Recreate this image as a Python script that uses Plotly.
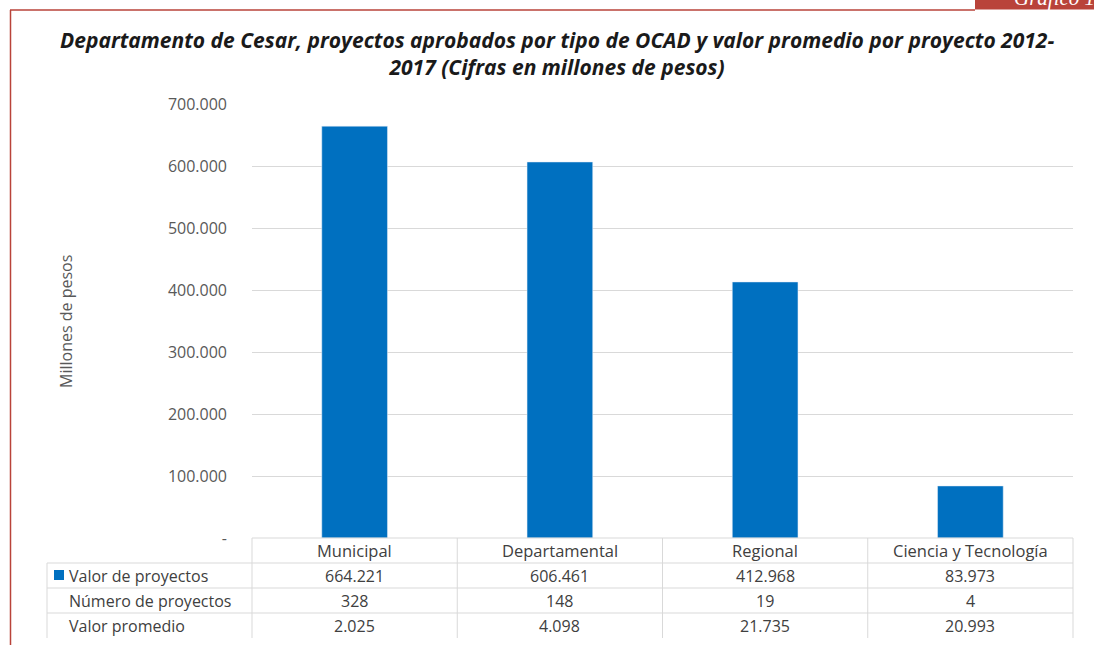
import plotly.graph_objects as go

categories = ["Municipal", "Departamental", "Regional", "Ciencia y Tecnología"]
valor_proyectos = [664221, 606461, 412968, 83973]
numero_proyectos = [328, 148, 19, 4]
valor_promedio = [2025, 4098, 21735, 20993]
row_labels = ["Valor de proyectos", "Número de proyectos", "Valor promedio"]
tick_vals = [0, 100000, 200000, 300000, 400000, 500000, 600000, 700000]
tick_text = ["-", "100.000", "200.000", "300.000", "400.000", "500.000", "600.000", "700.000"]

W, H = 1094, 645
L, R, T, B = 252, 1073, 104, 538
BAR = "#0070C0"
GRID = "#D9D9D9"
TXT = "#404040"
RED = "#B9433A"


def px(x):
    return (x - L) / (R - L)


def py(y):
    return (B - y) / (B - T)


def fmt(v):
    return f"{v:,}".replace(",", ".")


fig = go.Figure()
fig.add_trace(go.Bar(x=categories, y=valor_proyectos, marker_color=BAR,
                     name="Valor de proyectos", showlegend=False))

shapes = []
annotations = []
font_t = dict(family="Open Sans, Liberation Sans, sans-serif", size=16, color=TXT)
font_h = dict(family="Open Sans, Liberation Sans, sans-serif", size=16.5, color=TXT)
row_h = 25
n = len(categories)
col_w = (R - L) / n
shapes.append(dict(type="line", xref="paper", yref="paper", x0=px(L), x1=px(R), y0=py(B), y1=py(B), line=dict(color=GRID, width=1)))
for i in range(1, 4):
    y = B + row_h * i
    shapes.append(dict(type="line", xref="paper", yref="paper", x0=px(47), x1=px(R), y0=py(y), y1=py(y), line=dict(color=GRID, width=1)))
shapes.append(dict(type="line", xref="paper", yref="paper", x0=px(47), x1=px(47), y0=py(B + row_h), y1=py(B + 4 * row_h), line=dict(color=GRID, width=1)))
for j in range(n + 1):
    x = L + col_w * j
    shapes.append(dict(type="line", xref="paper", yref="paper", x0=px(x), x1=px(x), y0=py(B), y1=py(B + 4 * row_h), line=dict(color=GRID, width=1)))
shapes.append(dict(type="rect", xref="paper", yref="paper", x0=px(54), x1=px(64), y0=py(570), y1=py(580), fillcolor=BAR, line=dict(width=0)))

rows = [valor_proyectos, numero_proyectos, valor_promedio]
for j, c in enumerate(categories):
    annotations.append(dict(xref="x", yref="paper", x=c, y=py(B + row_h / 2), text=c, showarrow=False, font=font_h, xanchor="center", yanchor="middle"))
for i, (lab, vals) in enumerate(zip(row_labels, rows)):
    yc = py(B + row_h * (i + 1) + row_h / 2)
    annotations.append(dict(xref="paper", yref="paper", x=px(67), y=yc, text=lab, showarrow=False, font=font_t, xanchor="left", yanchor="middle"))
    for c, v in zip(categories, vals):
        annotations.append(dict(xref="x", yref="paper", x=c, y=yc, text=fmt(v), showarrow=False, font=font_t, xanchor="center", yanchor="middle"))

annotations.append(dict(xref="paper", yref="paper", x=px(557), y=py(53),
                        text="<b><i>Departamento de Cesar, proyectos aprobados por tipo de OCAD y valor promedio por proyecto 2012-<br>2017 (Cifras en millones de pesos)</i></b>",
                        showarrow=False, xanchor="center", yanchor="middle",
                        font=dict(family="Open Sans, sans-serif", size=21, color="#1a1a1a")))
annotations.append(dict(xref="paper", yref="paper", x=px(66), y=py(322), text="Millones de pesos", textangle=-90,
                        showarrow=False, xanchor="center", yanchor="middle",
                        font=dict(family="Open Sans, sans-serif", size=16, color="#595959")))

shapes.append(dict(type="line", xref="paper", yref="paper", x0=px(10), x1=px(975), y0=py(10), y1=py(10), line=dict(color=RED, width=1.5)))
shapes.append(dict(type="line", xref="paper", yref="paper", x0=px(10.5), x1=px(10.5), y0=py(10), y1=py(650), line=dict(color=RED, width=1.5)))
shapes.append(dict(type="rect", xref="paper", yref="paper", x0=px(975), x1=px(1100), y0=py(-5), y1=py(9.5), fillcolor=RED, line=dict(width=0)))
annotations.append(dict(xref="paper", yref="paper", x=px(1012), y=py(12), text="<i>Gráfico 1</i>", showarrow=False,
                        xanchor="left", yanchor="bottom", font=dict(family="Liberation Serif, serif", size=21, color="white")))

fig.update_layout(
    width=W, height=H,
    margin=dict(l=L, r=W - R, t=T, b=H - B, autoexpand=False),
    paper_bgcolor="white", plot_bgcolor="white",
    bargap=0.68,
    shapes=shapes, annotations=annotations,
    xaxis=dict(showticklabels=False, showgrid=False, zeroline=False, showline=False),
    yaxis=dict(range=[0, 700000], tickvals=tick_vals, ticktext=tick_text, showgrid=True, gridcolor=GRID,
               zeroline=False, showline=False, ticklabelstandoff=24,
               tickfont=dict(family="Open Sans, sans-serif", size=16, color="#595959")),
    showlegend=False,
)
fig.write_html("out.html", config={"displayModeBar": False},
               post_script="document.body.style.margin='0px';document.body.style.overflow='hidden';")
